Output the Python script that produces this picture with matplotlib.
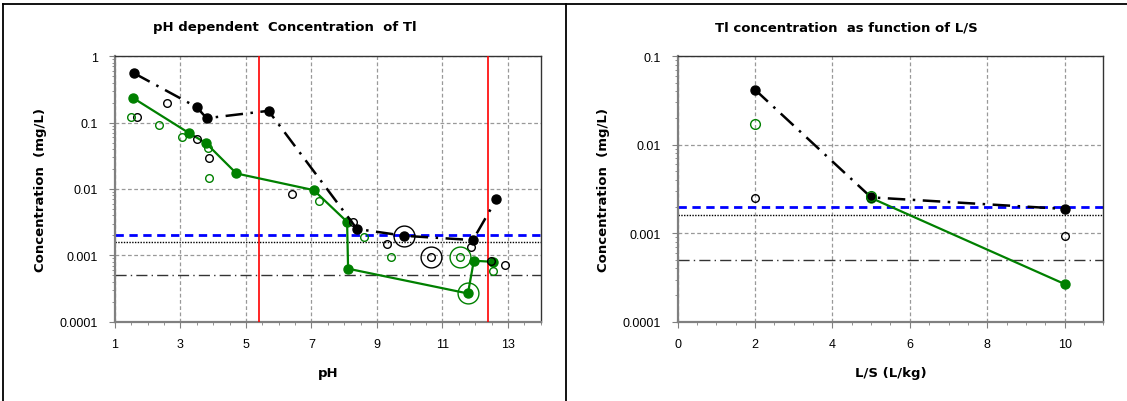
import matplotlib.pyplot as plt
from matplotlib.lines import Line2D
from matplotlib.ticker import MultipleLocator, LogLocator, NullFormatter, FixedLocator

plt.rcParams['font.family'] = ['Liberation Sans', 'DejaVu Sans']

# --- pH dependent data ---
ph_black = [1.59, 3.50, 3.80, 5.69, 8.39, 9.84, 11.93, 12.65]
c_black = [0.55, 0.17, 0.116, 0.15, 0.0025, 0.00197, 0.0017, 0.0070]

ph_green = [1.56, 3.27, 3.78, 4.71, 7.07, 8.09, 8.12, 11.78, 11.96, 12.55]
c_green = [0.233, 0.069, 0.049, 0.0171, 0.0096, 0.0032, 0.00063, 0.000267, 0.00083, 0.0008]

ph_black_open = [1.66, 2.58, 3.50, 3.88, 6.42, 8.27, 9.31, 10.65, 11.86, 12.47, 12.90]
c_black_open = [0.119, 0.196, 0.056, 0.0294, 0.0084, 0.0032, 0.0015, 0.00096, 0.00132, 0.00083, 0.00071]

ph_green_open = [1.49, 2.35, 3.05, 3.83, 3.88, 7.22, 8.61, 9.43, 11.53, 12.55]
c_green_open = [0.122, 0.091, 0.061, 0.041, 0.0147, 0.0065, 0.0019, 0.00096, 0.00096, 0.00059]

# large rings (highlighted samples)
ph_black_ring = [9.84, 10.65]
c_black_ring = [0.00197, 0.00096]
ph_green_ring = [11.53, 11.78]
c_green_ring = [0.00096, 0.000267]

ph_limits = [5.4, 12.4]

# --- L/S data ---
ls_black = [2, 5, 10]
c_ls_black = [0.0417, 0.00254, 0.00188]
ls_green = [5, 10]
c_ls_green = [0.0025, 0.000267]
ls_black_open = [2, 10]
c_ls_black_open = [0.00249, 0.00094]
ls_green_open = [2, 5]
c_ls_green_open = [0.0169, 0.0026]

# reference levels
ref_blue = 0.002
ref_dot = 0.0016
ref_dashdot = 0.0005

GREEN = '#008000'
dashdot = (0, (7, 3, 1, 3))
BOLD = dict(fontsize=9.5, fontweight='bold', family=['DejaVu Sans'])

fig = plt.figure(figsize=(11.27, 4.02), dpi=100)
ax1 = fig.add_axes([0.102, 0.197, 0.3777, 0.661])
ax2 = fig.add_axes([0.6013, 0.197, 0.3777, 0.661])


def style_axes(ax):
    ax.set_yscale('log')
    ax.grid(True, which='major', color='#999999', linestyle=(0, (3, 2)), linewidth=0.9)
    ax.set_axisbelow(True)
    ax.yaxis.set_minor_locator(LogLocator(base=10, subs=range(2, 10)))
    ax.yaxis.set_minor_formatter(NullFormatter())
    ax.tick_params(axis='both', which='major', labelsize=9, length=4, color='#808080', pad=8)
    ax.tick_params(axis='both', which='minor', length=2.5, color='#808080')
    for s in ['left', 'bottom']:
        ax.spines[s].set_color('#808080')
        ax.spines[s].set_linewidth(1.6)
    for s in ['top', 'right']:
        ax.spines[s].set_color('#333333')
        ax.spines[s].set_linewidth(1.0)
    for lv, st, col, lw in [(ref_blue, (0, (3, 2)), 'blue', 2.0),
                            (ref_dot, (0, (1, 1)), 'black', 1.0),
                            (ref_dashdot, (0, (8, 3, 1, 3)), '#333333', 1.0)]:
        ax.axhline(lv, color=col, linestyle=st, linewidth=lw, zorder=2)
    ax.set_ylabel('Concentration  (mg/L)', labelpad=9, **BOLD)


# left panel
style_axes(ax1)
ax1.set_xlim(1, 14)
ax1.set_ylim(0.0001, 1)
ax1.xaxis.set_major_locator(FixedLocator([1, 3, 5, 7, 9, 11, 13]))
ax1.xaxis.set_minor_locator(MultipleLocator(0.5))
ax1.set_yticks([0.0001, 0.001, 0.01, 0.1, 1])
ax1.set_yticklabels(['0.0001', '0.001', '0.01', '0.1', '1'])
for x in ph_limits:
    ax1.axvline(x, color='red', linewidth=1.2, zorder=3)
ax1.plot(ph_black, c_black, color='black', linestyle=dashdot, linewidth=1.8,
         marker='o', markersize=6.5, zorder=5)
ax1.plot(ph_green, c_green, color=GREEN, linewidth=1.6,
         marker='o', markersize=6.5, zorder=4)
ax1.plot(ph_black_open, c_black_open, linestyle='none', marker='o', markersize=5.5,
         markerfacecolor='none', markeredgecolor='black', markeredgewidth=1.0, zorder=4)
ax1.plot(ph_green_open, c_green_open, linestyle='none', marker='o', markersize=5.5,
         markerfacecolor='none', markeredgecolor=GREEN, markeredgewidth=1.0, zorder=4)
ax1.plot(ph_black_ring, c_black_ring, linestyle='none', marker='o', markersize=15,
         markerfacecolor='none', markeredgecolor='black', markeredgewidth=1.0, zorder=4)
ax1.plot(ph_green_ring, c_green_ring, linestyle='none', marker='o', markersize=15,
         markerfacecolor='none', markeredgecolor=GREEN, markeredgewidth=1.0, zorder=4)
ax1.set_xlabel('pH', labelpad=11, **BOLD)

# right panel
style_axes(ax2)
ax2.set_xlim(0, 11)
ax2.set_ylim(0.0001, 0.1)
ax2.xaxis.set_major_locator(FixedLocator([0, 2, 4, 6, 8, 10]))
ax2.xaxis.set_minor_locator(MultipleLocator(0.5))
ax2.set_yticks([0.0001, 0.001, 0.01, 0.1])
ax2.set_yticklabels(['0.0001', '0.001', '0.01', '0.1'])
ax2.plot(ls_green, c_ls_green, color=GREEN, linewidth=1.6,
         marker='o', markersize=6.5, zorder=4)
ax2.plot(ls_black, c_ls_black, color='black', linestyle=dashdot, linewidth=1.8,
         marker='o', markersize=6.5, zorder=5)
ax2.plot(ls_black_open, c_ls_black_open, linestyle='none', marker='o', markersize=5.5,
         markerfacecolor='none', markeredgecolor='black', markeredgewidth=1.0, zorder=4)
ax2.plot(ls_green_open, c_ls_green_open, linestyle='none', marker='o', markersize=7,
         markerfacecolor='none', markeredgecolor=GREEN, markeredgewidth=1.0, zorder=6)
ax2.set_xlabel('L/S (L/kg)', labelpad=11, **BOLD)

# titles centred on each panel
fig.text(284.5 / 1127, 1 - 28 / 402, 'pH dependent  Concentration  of Tl',
         ha='center', va='center', **BOLD)
fig.text(846.5 / 1127, 1 - 28 / 402, 'Tl concentration  as function of L/S',
         ha='center', va='center', **BOLD)

# panel frame lines
y_top = 1 - 4.5 / 402
fig.add_artist(Line2D([3 / 1127, 1], [y_top, y_top], color='black', linewidth=1.3))
fig.add_artist(Line2D([3.5 / 1127, 3.5 / 1127], [0, y_top], color='black', linewidth=1.3))
fig.add_artist(Line2D([566 / 1127, 566 / 1127], [0, y_top], color='black', linewidth=1.3))

fig.savefig('out.png', dpi=100)
